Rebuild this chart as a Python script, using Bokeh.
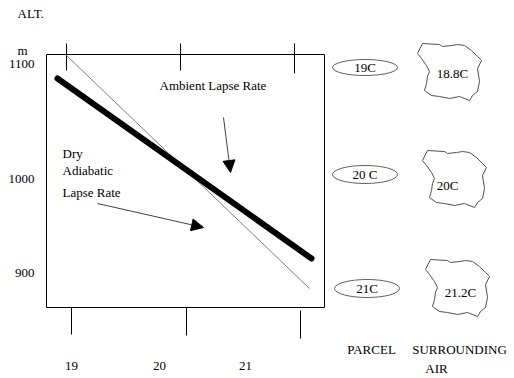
from bokeh.plotting import figure
from bokeh.models import Range1d, Arrow, NormalHead
from bokeh.core.properties import value
from bokeh.embed import file_html
from bokeh.resources import INLINE

# ---- data ----
altitudes = ["1100", "1000", "900"]
temp_ticks = ["19", "20", "21"]
parcel_temps = ["19C", "20 C", "21C"]
surrounding_temps = ["18.8C", "20C", "21.2C"]
ambient_label = "Ambient Lapse Rate"
dry_label = ["Dry", "Adiabatic", "Lapse Rate"]

# ---- layout (pixel space of the diagram) ----
W, H = 514, 378
FONT = value("Liberation Serif")
FS = "13px"

p = figure(width=W, height=H, x_range=Range1d(0, W), y_range=Range1d(H, 0),
           output_backend="svg", toolbar_location=None, min_border=0,
           x_axis_type=None, y_axis_type=None)
p.grid.visible = False
p.outline_line_color = None
p.background_fill_color = "white"
p.border_fill_color = "white"

def txt(x, y, t, align="left", size=FS, color="black"):
    p.text(x=[x], y=[y], text=[t], text_font=FONT, text_font_size=size,
           text_align=align, text_baseline="middle", text_color=color)

# box
box_l, box_r, box_t, box_b = 46, 324, 54, 307
p.line([box_l, box_r, box_r, box_l, box_l], [box_t, box_t, box_b, box_b, box_t],
       line_color="black", line_width=1)

# top ticks
for x, y1 in zip([66, 180, 294], [70, 70, 73]):
    p.line([x, x], [43, y1], line_color="black", line_width=1)
# bottom ticks
for x, y0, y1 in zip([71, 186, 300], [307, 307, 310], [334, 335, 338]):
    p.line([x, x], [y0, y1], line_color="black", line_width=1)

# dry adiabatic (thin) and ambient (thick) lines
p.line([66, 309], [55, 288], line_color="#808080", line_width=1)
p.line([57, 311], [78, 258], line_color="black", line_width=6, line_cap="round")

# arrows
p.add_layout(Arrow(x_start=223, y_start=117, x_end=230, y_end=172,
                   line_color="#404040", line_width=1,
                   end=NormalHead(size=12, fill_color="black", line_color="black")))
p.add_layout(Arrow(x_start=97, y_start=203, x_end=203, y_end=227,
                   line_color="#404040", line_width=1,
                   end=NormalHead(size=12, fill_color="black", line_color="black")))

# texts in the box
txt(159, 85, ambient_label)
for t, y in zip(dry_label, [153, 170, 192]):
    txt(62, y, t)

# y labels
txt(17, 13, "ALT.")
txt(22, 50, "m", align="center")
for t, y in zip(altitudes, [63, 178, 272]):
    txt(34, y, t, align="right")

# x labels
for t, x in zip(temp_ticks, [71, 159, 245]):
    txt(x, 365, t, align="center")

# parcel ellipses
for t, (cx, cy, h) in zip(parcel_temps, [(364.5, 67, 16), (364.5, 174, 18), (366.5, 288, 18)]):
    p.ellipse(x=[cx], y=[cy], width=65, height=h, fill_color=None,
              line_color="#606060", line_width=1)
    txt(cx, cy, t, align="center")

# surrounding-air blobs
blob_dx = [5, 22, 25, 34, 40, 47, 54, 60, 64, 60, 62, 60, 55, 52, 42, 32, 22, 14, 7, 9, 10, 12, 9, 4, 0, 5]
blob_dy = [0, 1, 3, 2, 1, 2, 7, 13, 17, 25, 38, 48, 52, 57, 53, 55, 53, 52, 47, 40, 33, 28, 22, 15, 10, 0]
for t, (ox, oy), (tx, ty) in zip(surrounding_temps,
                                 [(417, 43), (422, 150), (425, 259)],
                                 [(452, 73), (447, 185), (460, 292)]):
    p.line([ox + d for d in blob_dx], [oy + d for d in blob_dy],
           line_color="#505050", line_width=1)
    txt(tx, ty, t, align="center")

txt(371, 349, "PARCEL", align="center")
txt(459, 349, "SURROUNDING", align="center")
txt(436, 368, "AIR", align="center")

open("out.html", "w").write(file_html(p, INLINE))
